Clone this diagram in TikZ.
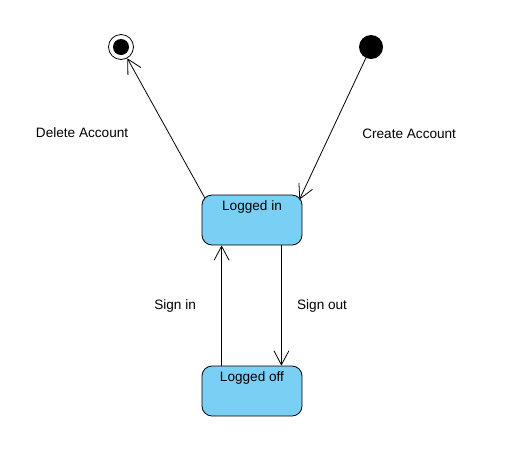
\documentclass[tikz,border=0pt]{standalone}
\usepackage{fontspec}
\setmainfont{Liberation Sans}
\usetikzlibrary{positioning,arrows.meta,calc}
\definecolor{stateblue}{RGB}{122,207,245}
\begin{document}
\begin{tikzpicture}[x=1pt,y=-1pt,line width=0.8pt,>={Straight Barb[length=14pt,width=15pt]},font=\fontsize{13.6pt}{16pt}\selectfont,
	state box/.style={draw,fill=stateblue,rounded corners=10pt,minimum width=100pt,minimum height=50pt,inner sep=0pt},
	init state/.style={circle,fill=black,minimum size=24pt,inner sep=0pt},
	final state/.style={circle,draw,minimum size=25pt,inner sep=0pt,path picture={\fill (path picture bounding box.center) circle (8pt);}}]
	\useasboundingbox (0,0) rectangle (510,456);
	\node[final state] (end) at (121,47) {};
	\node[init state] (start) at (371,47) {};
	\node[state box,label={[anchor=north,yshift=-2pt]north:Logged in}] (in) at (252,220) {};
	\node[state box,label={[anchor=north,yshift=-2pt]north:Logged off}] (off) at (252,391) {};
	\draw[->] ([xshift=3pt,yshift=-3pt]in.north west) -- (end) node[midway,left=34pt,yshift=-5pt] {Delete Account};
	\draw[->] (start) -- ([xshift=-3pt,yshift=-5pt]in.north east) node[midway,right=26pt,yshift=-5pt] {Create Account};
	\draw[->] ([xshift=20pt]off.north west) -- ([xshift=20pt]in.south west) node[midway,left=22pt] {Sign in};
	\draw[->] ([xshift=-21pt]in.south east) -- ([xshift=-21pt]off.north east) node[midway,right=12pt] {Sign out};
\end{tikzpicture}
\end{document}
